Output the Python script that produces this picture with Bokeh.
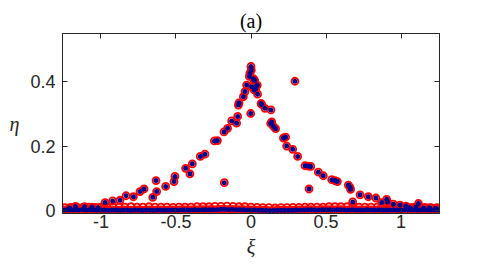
from bokeh.plotting import figure
from bokeh.models import Range1d, LinearAxis, FixedTicker, Title, ColumnDataSource
from bokeh.embed import file_html
from bokeh.resources import INLINE

# ---- data ----
XI_CURVE = [-0.973, -0.922, -0.873, -0.833, -0.784, -0.740, -0.713, -0.655, -0.633, -0.629,
            -0.569, -0.513, -0.507, -0.436, -0.407, -0.391, -0.338, -0.307, -0.244, -0.224,
            -0.178, -0.180, -0.156, -0.129, -0.096, -0.089, -0.084, -0.080, -0.051, -0.040,
            -0.029, -0.011, -0.007, -0.002, 0.000, 0.002, 0.004, 0.016, 0.020, 0.024,
            0.022, 0.031, 0.038, 0.042, 0.044, 0.067, 0.071, 0.093, 0.133, 0.131,
            0.138, 0.149, 0.164, 0.216, 0.231, 0.238, 0.278, 0.293, 0.311, 0.360,
            0.382, 0.398, 0.387, 0.449, 0.482, 0.538, 0.560, 0.576, 0.649, 0.660,
            0.664, 0.678, 0.727, 0.782, 0.833, 0.871, 0.904, 0.910, 0.949, 0.993,
            1.033, 1.116]
ETA_CURVE = [0.026, 0.031, 0.033, 0.047, 0.044, 0.060, 0.068, 0.042, 0.094, 0.060,
             0.076, 0.091, 0.107, 0.132, 0.115, 0.146, 0.169, 0.176, 0.217, 0.218,
             0.0875, 0.245, 0.256, 0.279, 0.272, 0.293, 0.328, 0.335, 0.354, 0.370,
             0.390, 0.417, 0.427, 0.302, 0.448, 0.437, 0.385, 0.410, 0.406, 0.405,
             0.375, 0.378, 0.388, 0.390, 0.362, 0.333, 0.330, 0.318, 0.313, 0.271,
             0.276, 0.2625, 0.255, 0.226, 0.229, 0.201, 0.191, 0.402, 0.169, 0.140,
             0.139, 0.138, 0.068, 0.120, 0.109, 0.097, 0.094, 0.091, 0.080, 0.073,
             0.067, 0.028, 0.050, 0.044, 0.040, 0.026, 0.036, 0.028, 0.021, 0.018,
             0.015, 0.023]

XI_EDGE = [-1.21, -1.17, -1.11, -1.06, -1.02, 1.06, 1.10, 1.15, 1.19, 1.23]
ETA_EDGE = [0.009, 0.014, 0.013, 0.012, 0.010, 0.010, 0.012, 0.009, 0.010, 0.008]

XI_BASE = [-1.250, -1.225, -1.200, -1.175, -1.150, -1.125, -1.100, -1.075, -1.050, -1.025,
           -1.000, -0.975, -0.950, -0.925, -0.900, -0.875, -0.850, -0.825, -0.800, -0.775,
           -0.750, -0.725, -0.700, -0.675, -0.650, -0.625, -0.600, -0.575, -0.550, -0.525,
           -0.500, -0.475, -0.450, -0.425, -0.400, -0.375, -0.350, -0.325, -0.300, -0.275,
           -0.250, -0.225, -0.200, -0.175, -0.150, -0.125, -0.100, -0.075, -0.050, -0.025,
           0.000, 0.025, 0.050, 0.075, 0.100, 0.125, 0.150, 0.175, 0.200, 0.225,
           0.250, 0.275, 0.300, 0.325, 0.350, 0.375, 0.400, 0.425, 0.450, 0.475,
           0.500, 0.525, 0.550, 0.575, 0.600, 0.625, 0.650, 0.675, 0.700, 0.725,
           0.750, 0.775, 0.800, 0.825, 0.850, 0.875, 0.900, 0.925, 0.950, 0.975,
           1.000, 1.025, 1.050, 1.075, 1.100, 1.125, 1.150, 1.175, 1.200, 1.225,
           1.250]
ETA_BASE = [0.003, 0.004, 0.003, 0.004, 0.003, 0.004, 0.003, 0.004, 0.003, 0.003,
            0.003, 0.003, 0.002, 0.003, 0.003, 0.002, 0.003, 0.003, 0.002, 0.003,
            0.003, 0.002, 0.003, 0.003, 0.002, 0.003, 0.003, 0.002, 0.003, 0.003,
            0.003, 0.003, 0.004, 0.003, 0.003, 0.004, 0.003, 0.004, 0.004, 0.004,
            0.004, 0.004, 0.005, 0.005, 0.004, 0.005, 0.004, 0.004, 0.004, 0.003,
            0.003, 0.003, 0.002, 0.002, 0.002, 0.001, 0.001, 0.002, 0.002, 0.002,
            0.002, 0.002, 0.003, 0.003, 0.003, 0.004, 0.004, 0.003, 0.003, 0.004,
            0.004, 0.004, 0.003, 0.004, 0.004, 0.003, 0.003, 0.004, 0.003, 0.003,
            0.003, 0.004, 0.003, 0.003, 0.004, 0.003, 0.003, 0.003, 0.004, 0.003,
            0.003, 0.004, 0.003, 0.004, 0.003, 0.003, 0.004, 0.003, 0.003, 0.003,
            0.003]

XI_RING = [-1.24, -1.20, -1.16, -1.12, -1.08, -1.04, -1.00, -0.96, -0.92, -0.88,
           -0.84, -0.80, -0.76, -0.72, -0.68, -0.64, -0.60, -0.56, -0.52, -0.48,
           -0.44, -0.40, -0.36, -0.32, -0.28, -0.24, -0.20, -0.16, -0.12, -0.08,
           -0.04, 0.00, 0.04, 0.08, 0.12, 0.16, 0.20, 0.24, 0.28, 0.32,
           0.36, 0.40, 0.44, 0.48, 0.52, 0.56, 0.60, 0.64, 0.68, 0.72,
           0.76, 0.80, 0.84, 0.88, 0.92, 0.96, 1.00, 1.04, 1.08, 1.12,
           1.16, 1.20, 1.24]
ETA_RING = [0.010, 0.011, 0.012, 0.011, 0.012, 0.011, 0.012, 0.011, 0.012, 0.012,
            0.012, 0.013, 0.012, 0.012, 0.013, 0.012, 0.012, 0.012, 0.011, 0.012,
            0.012, 0.012, 0.013, 0.013, 0.013, 0.014, 0.014, 0.015, 0.014, 0.013,
            0.013, 0.012, 0.011, 0.010, 0.010, 0.009, 0.010, 0.010, 0.011, 0.011,
            0.012, 0.012, 0.012, 0.012, 0.013, 0.013, 0.013, 0.013, 0.013, 0.012,
            0.012, 0.012, 0.012, 0.012, 0.011, 0.011, 0.012, 0.011, 0.011, 0.010,
            0.011, 0.010, 0.010]

X_TICKS = [-1, -0.5, 0, 0.5, 1]
X_LABELS = ["-1", "-0.5", "0", "0.5", "1"]
Y_TICKS = [0, 0.2, 0.4]
Y_LABELS = ["0", "0.2", "0.4"]

red_src = ColumnDataSource(dict(x=XI_CURVE + XI_BASE + XI_RING + XI_EDGE,
                                y=ETA_CURVE + ETA_BASE + ETA_RING + ETA_EDGE))
blue_src = ColumnDataSource(dict(x=XI_CURVE + XI_BASE + XI_EDGE,
                                 y=ETA_CURVE + ETA_BASE + ETA_EDGE))

AX = "#262626"
p = figure(frame_width=377, frame_height=180, output_backend="svg", toolbar_location=None,
           x_range=Range1d(-1.2566, 1.2566), y_range=Range1d(-0.008, 0.55),
           min_border_left=62, min_border_right=38, min_border_top=33, min_border_bottom=43,
           background_fill_color="white", border_fill_color="white")
p.title = Title(text="(a)", align="center", text_font="Liberation Serif",
                text_font_size="20px", text_font_style="normal", text_color="black",
                offset=0, standoff=4)
p.xgrid.visible = False
p.ygrid.visible = False
p.outline_line_color = AX
p.outline_line_width = 1

p.scatter("x", "y", source=red_src, marker="circle", size=7, fill_color=None,
          line_color="#ff0000", line_width=1.8)
p.scatter("x", "y", source=blue_src, marker="circle", size=5, fill_color="#00008f",
          line_color=None)


def style(ax, labels=True):
    ax.axis_line_color = AX
    ax.axis_line_width = 1
    ax.major_tick_line_color = AX
    ax.major_tick_in = 5
    ax.major_tick_out = 0
    ax.minor_tick_line_color = None
    if labels:
        ax.major_label_text_font = "Liberation Sans"
        ax.major_label_text_font_size = "18px"
        ax.major_label_text_color = AX
    else:
        ax.major_label_text_font_size = "1px"
        ax.major_label_text_color = None
        ax.major_label_standoff = 0


xt = FixedTicker(ticks=X_TICKS)
yt = FixedTicker(ticks=Y_TICKS)
p.xaxis.ticker = xt
p.yaxis.ticker = yt
p.xaxis.major_label_overrides = {t: s for t, s in zip(X_TICKS, X_LABELS)}
p.yaxis.major_label_overrides = {t: s for t, s in zip(Y_TICKS, Y_LABELS)}
for ax in p.xaxis + p.yaxis:
    style(ax)
p.xaxis.major_label_standoff = 1
p.yaxis.major_label_standoff = 7

p.xaxis.axis_label = "ξ"
p.yaxis.axis_label = "η"
for ax in (p.xaxis[0], p.yaxis[0]):
    ax.axis_label_text_font = "Liberation Serif"
    ax.axis_label_text_font_style = "italic"
    ax.axis_label_text_font_size = "20px"
    ax.axis_label_text_color = AX
p.xaxis.axis_label_standoff = 5
p.yaxis.axis_label_standoff = 8
p.yaxis.axis_label_orientation = "horizontal"

top = LinearAxis(ticker=FixedTicker(ticks=X_TICKS))
right = LinearAxis(ticker=FixedTicker(ticks=Y_TICKS))
style(top, labels=False)
style(right, labels=False)
p.add_layout(top, "above")
p.add_layout(right, "right")

open("out.html", "w").write(file_html(p, INLINE))
